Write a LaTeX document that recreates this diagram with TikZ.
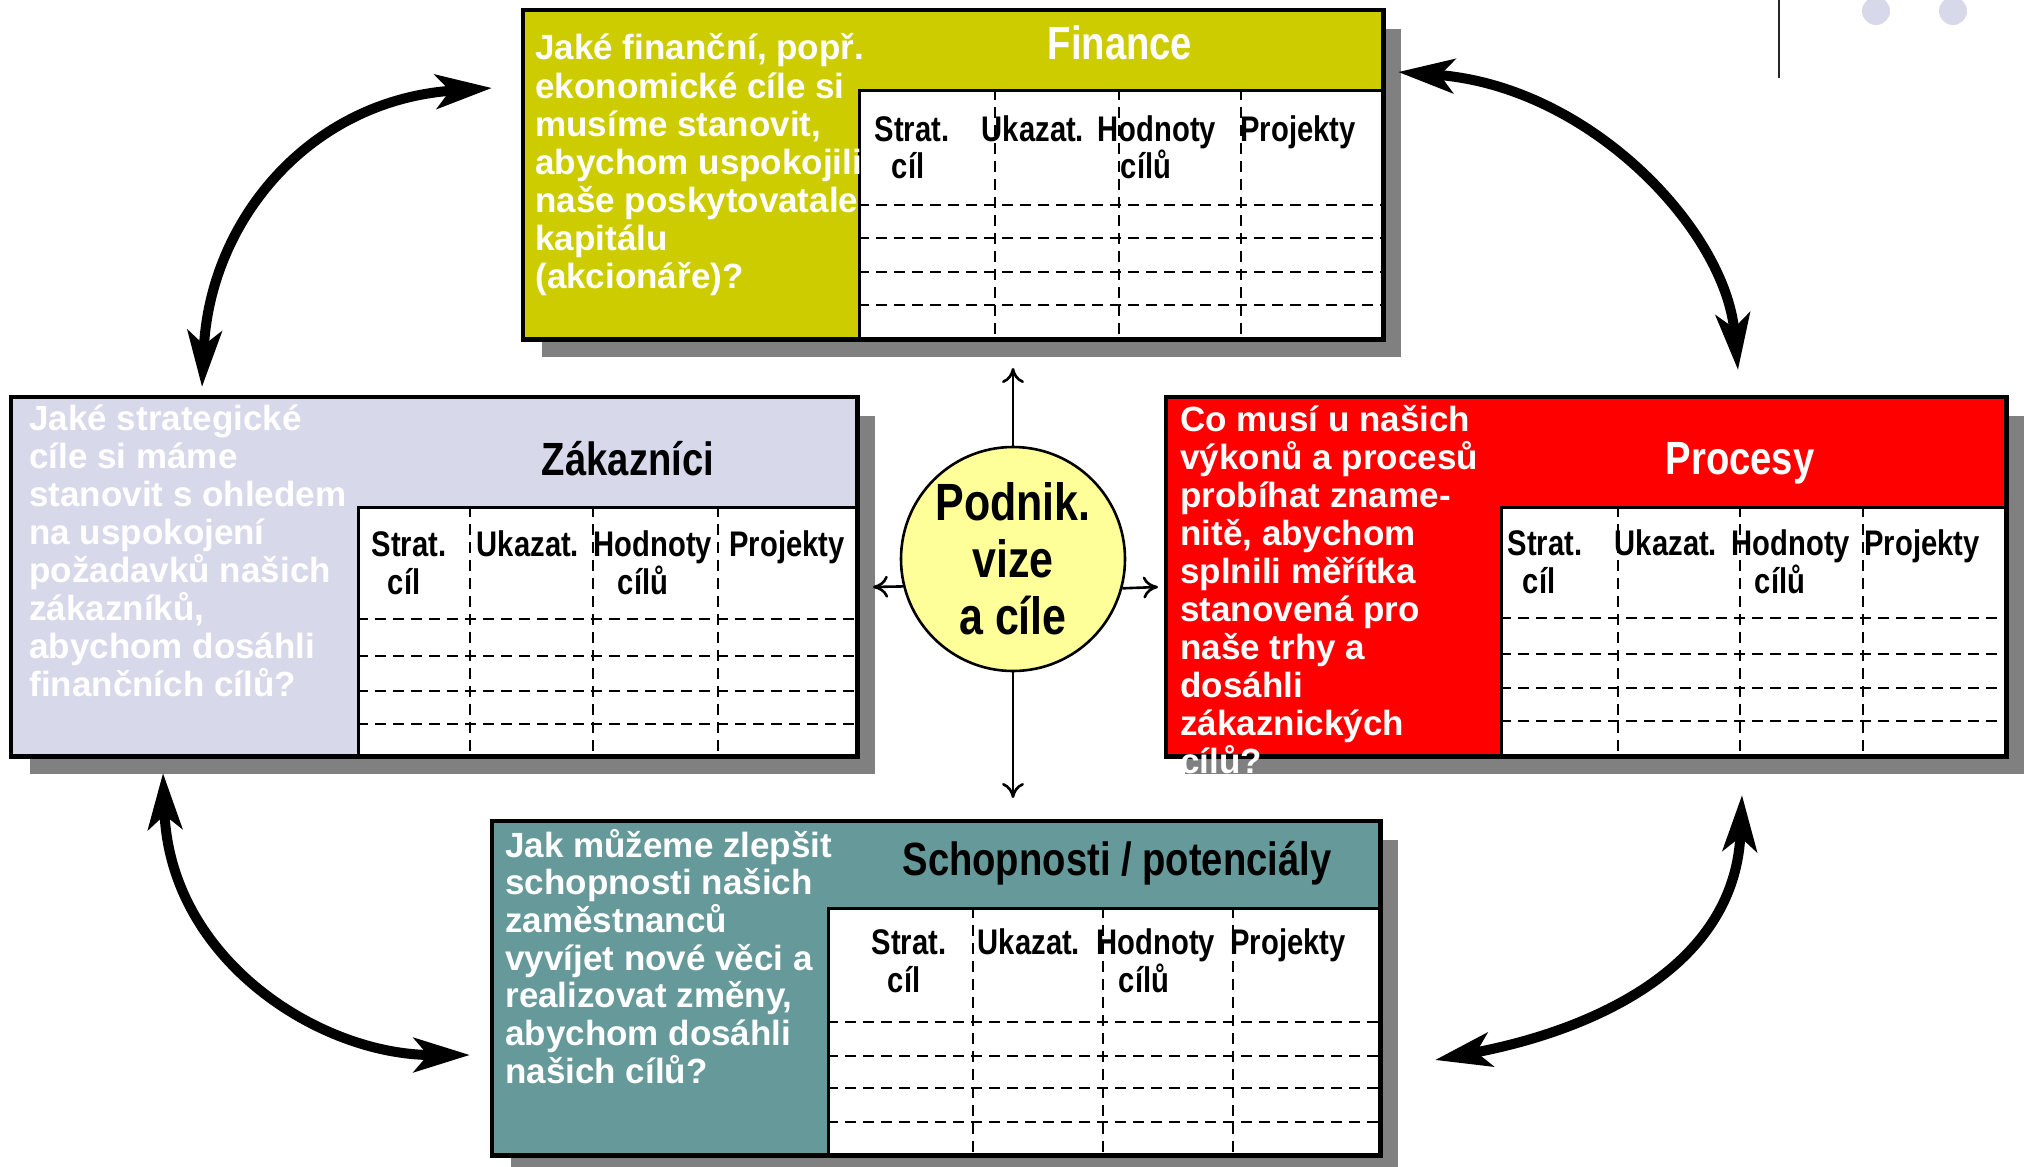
\documentclass[tikz,border=0pt]{standalone}
\usepackage{fontspec}
\newfontfamily\cond{Liberation Sans}[FakeStretch=0.82]
\newfontfamily\qfont{Liberation Sans}
\usetikzlibrary{arrows.meta,shadows}

\definecolor{finfill}{RGB}{204,204,0}
\definecolor{zakfill}{RGB}{216,216,235}
\definecolor{profill}{RGB}{255,0,0}
\definecolor{schfill}{RGB}{102,153,153}
\definecolor{shadowgray}{RGB}{128,128,128}
\definecolor{visionfill}{RGB}{255,255,153}

\tikzset{
  panelbox/.style={draw=black, line width=1.5pt, inner sep=0pt, anchor=north west,
    drop shadow={opacity=1, shadow xshift=9pt, shadow yshift=-9pt, fill=shadowgray, draw=none}},
  tablebox/.style={fill=white, draw=black, line width=1.4pt, inner sep=0pt, anchor=south east},
  outline/.style={draw=black, line width=1.5pt},
  griddash/.style={draw=black, line width=1.4pt, dash pattern=on 5.5pt off 3.5pt},
  question/.style={anchor=base west, inner sep=0pt, text=white,
    font=\qfont\bfseries\fontsize{17.5}{19}\selectfont},
  colhead/.style={anchor=base, inner sep=0pt, text=black,
    font=\cond\bfseries\fontsize{17.8}{18.5}\selectfont},
  paneltitle/.style={anchor=base, inner sep=0pt,
    font=\cond\bfseries\fontsize{23.3}{26}\selectfont},
  bigarrow/.style={line width=5pt,
    {Stealth[length=28pt,width=17pt,inset=7pt]}-{Stealth[length=28pt,width=17pt,inset=7pt]}},
  smallarrow/.style={line width=1.3pt, -{Computer Modern Rightarrow[length=7.5pt,width=11pt]}},
}

% column headings of one goal table
\newcommand\tableheads[9]{%
  \node[colhead] (#1-s)  at (#4,#2) {Strat.};
  \node[colhead] (#1-s2) at (#5,#3) {cíl};
  \node[colhead] (#1-u)  at (#6,#2) {Ukazat.};
  \node[colhead] (#1-h)  at (#7,#2) {Hodnoty};
  \node[colhead] (#1-h2) at (#8,#3) {cílů};
  \node[colhead] (#1-p)  at (#9,#2) {Projekty};
}

\begin{document}
\begin{tikzpicture}[x=0.5pt,y=-0.5pt]
\fill[white] (0,0) rectangle (2025,1167);
\useasboundingbox (0,0) rectangle (2025,1167);

% ---------- top right ornament ----------
\draw[line width=1pt, black!85] (1779,0) -- (1779,78);
\fill[zakfill] (1876,11) circle[radius=7pt];
\fill[zakfill] (1953,11) circle[radius=7pt];

% ---------- Finance ----------
\node[panelbox, fill=finfill, minimum width=429.5pt, minimum height=164pt] (fin) at (522,9) {};
\node[tablebox, minimum width=261.5pt, minimum height=124pt] (fin-tab) at (fin.south east) {};
\foreach \c in {995,1119,1241} \draw[griddash] (\c,89) -- (\c,337);
\foreach \r in {205,238,272,305} \draw[griddash] (858,\r) -- (1381,\r);
\draw[outline] (fin.north west) rectangle (fin.south east);
\node[paneltitle, text=white] (fin-title) at (1120,59) {Finance};
\foreach \t [count=\i from 0] in {{Jaké finanční, popř.},ekonomické cíle si,{musíme stanovit,},abychom uspokojili,naše poskytovatale,kapitálu,(akcionáře)?}
  \node[question] (fin-q\i) at (535,{60+38*\i}) {\t};
\tableheads{fin}{141}{178}{912}{908}{1033}{1157}{1146}{1298}

% ---------- Zákazníci ----------
\node[panelbox, fill=zakfill, minimum width=422.5pt, minimum height=179pt] (zak) at (10,396) {};
\node[tablebox, minimum width=249pt, minimum height=124pt] (zak-tab) at (zak.south east) {};
\foreach \c in {470,593,718} \draw[griddash] (\c,506) -- (\c,754);
\foreach \r in {619,656,691,724} \draw[griddash] (357,\r) -- (855,\r);
\draw[outline] (zak.north west) rectangle (zak.south east);
\node[paneltitle, text=black] (zak-title) at (628,475) {Zákazníci};
\foreach \t [count=\i from 0] in {Jaké strategické,cíle si máme,stanovit s ohledem,na uspokojení,požadavků našich,{zákazníků,},abychom dosáhli,finančních cílů?}
  \node[question] (zak-q\i) at (29,{430+38*\i}) {\t};
\tableheads{zak}{556}{594}{409}{404}{528}{653}{643}{787}

% ---------- Procesy ----------
\node[panelbox, fill=profill, minimum width=419.5pt, minimum height=179pt] (pro) at (1165,396) {};
\node[tablebox, minimum width=252pt, minimum height=124pt] (pro-tab) at (pro.south east) {};
\foreach \c in {1618,1740,1863} \draw[griddash] (\c,506) -- (\c,754);
\foreach \r in {618,654,688,721} \draw[griddash] (1500,\r) -- (2004,\r);
\draw[outline] (pro.north west) rectangle (pro.south east);
\node[paneltitle, text=white] (pro-title) at (1740,474) {Procesy};
\foreach \t [count=\i from 0] in {Co musí u našich,výkonů a procesů,probíhat zname-,{nitě, abychom},splnili měřítka,stanovená pro,naše trhy a,dosáhli,zákaznických,cílů?}
  \node[question] (pro-q\i) at (1180,{431+38*\i}) {\t};
\tableheads{pro}{555}{593}{1545}{1539}{1666}{1791}{1780}{1922}

% ---------- Schopnosti / potenciály ----------
\node[panelbox, fill=schfill, minimum width=443.5pt, minimum height=166.5pt] (sch) at (491,820) {};
\node[tablebox, minimum width=275.5pt, minimum height=123pt] (sch-tab) at (sch.south east) {};
\foreach \c in {973,1103,1233} \draw[griddash] (\c,907) -- (\c,1153);
\foreach \r in {1022,1056,1088,1122} \draw[griddash] (827,\r) -- (1378,\r);
\draw[outline] (sch.north west) rectangle (sch.south east);
\node[paneltitle, text=black] (sch-title) at (1117,875) {Schopnosti / potenciály};
\foreach \t [count=\i from 0] in {Jak můžeme zlepšit,schopnosti našich,zaměstnanců,vyvíjet nové věci a,{realizovat změny,},abychom dosáhli,našich cílů?}
  \node[question] (sch-q\i) at (505,{857+37.7*\i}) {\t};
\tableheads{sch}{954}{992}{909}{904}{1029}{1156}{1144}{1288}

% ---------- vision in the centre ----------
\node[circle, draw=black, line width=1.3pt, fill=visionfill, minimum size=112pt, inner sep=0pt,
      align=center, font=\cond\bfseries\fontsize{26.2}{28.5}\selectfont] (vision) at (1013,559)
      {Podnik.\\vize\\a cíle};
\coordinate (v-up) at (1013,368);
\coordinate (v-down) at (1013,798);
\coordinate (v-left) at (873,587);
\coordinate (v-right) at (1158,587);
\draw[smallarrow] (vision.north) -- (v-up);
\draw[smallarrow] (vision.south) -- (v-down);
\draw[smallarrow] (vision.194.5) -- (v-left);
\draw[smallarrow] (vision.345.5) -- (v-right);

% ---------- cycle arrows between the perspectives ----------
\coordinate (zak-top) at (202,387);
\coordinate (fin-left) at (492,88);
\coordinate (fin-right) at (1398,72);
\coordinate (pro-top) at (1738,370);
\coordinate (zak-bottom) at (163,773);
\coordinate (sch-left) at (470,1055);
\coordinate (pro-bottom) at (1742,795);
\coordinate (sch-right) at (1435,1060);
\draw[bigarrow] (zak-top) .. controls (210,220) and (310,100) .. (fin-left);
\draw[bigarrow] (pro-top) .. controls (1725,230) and (1590,86) .. (fin-right);
\draw[bigarrow] (zak-bottom) .. controls (170,960) and (320,1055) .. (sch-left);
\draw[bigarrow] (pro-bottom) .. controls (1735,971) and (1585,1032) .. (sch-right);
\end{tikzpicture}
\end{document}
